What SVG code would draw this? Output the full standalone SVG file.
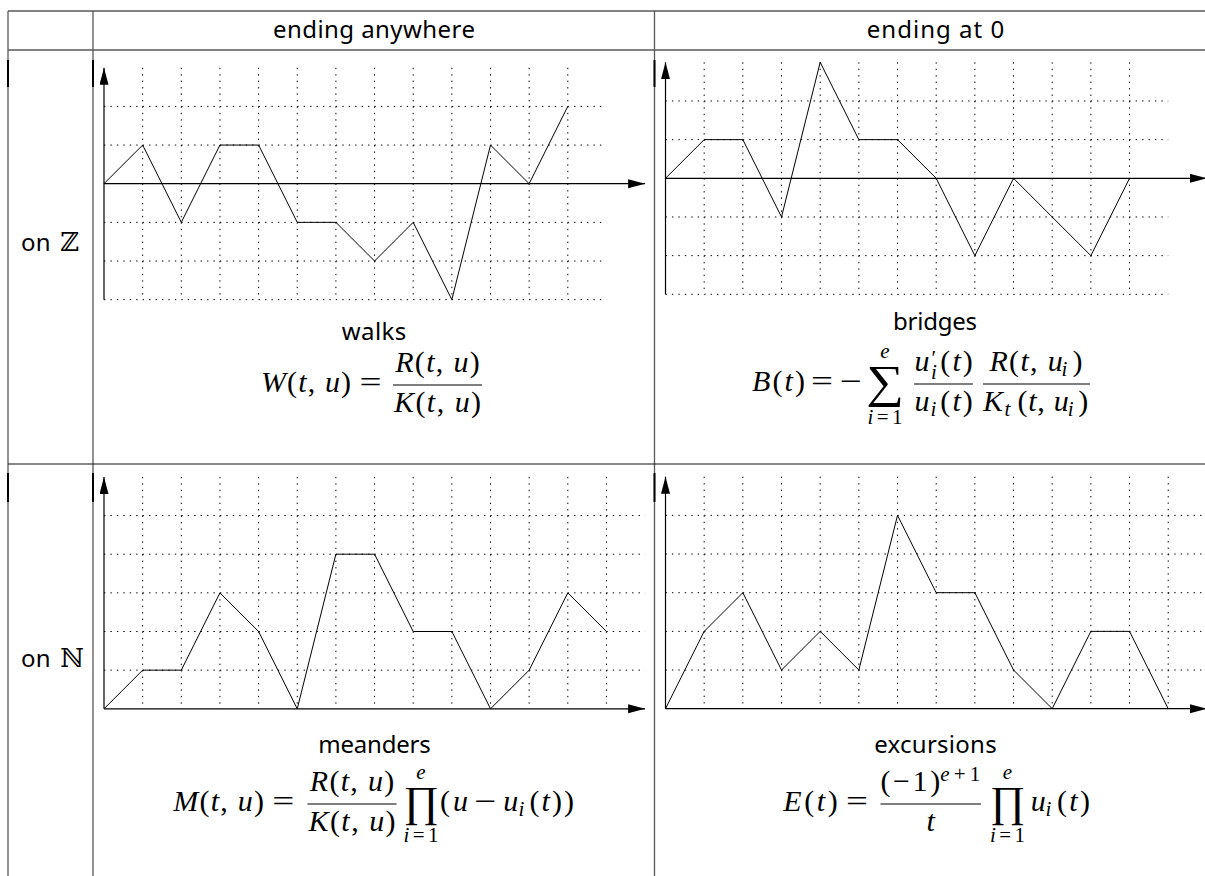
<svg xmlns="http://www.w3.org/2000/svg" width="1205" height="876" viewBox="0 0 1205 876">
<defs>
<style>
.tbl{stroke:#5a5a5a;stroke-width:1.3;fill:none}
.rule{stroke:#000;stroke-width:2;fill:none}
.grid{stroke:#000;stroke-width:1;stroke-dasharray:1.4 5.04;fill:none}
.axis{stroke:#000;stroke-width:1.2;fill:none;marker-end:url(#ah)}
.walk{stroke:#000;stroke-width:1;fill:none}
.lbl{font-family:"Noto Sans","DejaVu Sans",sans-serif;font-size:24px;fill:#000}
.m{font-family:"Liberation Serif","Times New Roman","DejaVu Serif",serif;font-size:30px;fill:#000}
.i{font-style:italic}
.s{font-size:21px}
.sum{font-size:46px}
.prod{font-size:43px}
.bar{stroke:#000;stroke-width:1.1}
.bb{font-family:"DejaVu Serif",serif;font-size:26px;fill:#000}
</style>
<marker id="ah" markerUnits="userSpaceOnUse" markerWidth="18" markerHeight="10" refX="17" refY="4.5" orient="auto"><path d="M0 0L17 4.5L0 9z" fill="#000"/></marker>
</defs>
<rect width="1205" height="876" fill="#fff"/>

<g id="table">
<path class="tbl" d="M8 11H1205M8 50H1205M8 11V876M93 11V876M654.5 11V876"/>
<path d="M8 464H1205" stroke="#111" stroke-width="1.1"/>
<path class="rule" d="M8 60V87M93 60V87M654.5 60V87M8 473V502M93 473V502M654.5 473V502"/>
</g>

<g id="headers">
<text class="lbl" x="273" y="38.3" textLength="202" lengthAdjust="spacing">ending anywhere</text>
<text class="lbl" x="866.75" y="38.3" textLength="137.5" lengthAdjust="spacing">ending at 0</text>
<text class="lbl" x="21" y="250.5" textLength="29.5" lengthAdjust="spacing">on</text>
<text class="bb" x="60.2" y="250.5">ℤ</text>
<text class="lbl" x="21" y="667" textLength="29.5" lengthAdjust="spacing">on</text>
<text class="bb" x="60.2" y="667">ℕ</text>
</g>

<g id="cell-walks">
<path class="grid" d="M142.65 67.75V299.65M181.3 67.75V299.65M219.95 67.75V299.65M258.6 67.75V299.65M297.25 67.75V299.65M335.9 67.75V299.65M374.55 67.75V299.65M413.2 67.75V299.65M451.85 67.75V299.65M490.5 67.75V299.65M529.15 67.75V299.65M567.8 67.75V299.65M104 106.4H606.45M104 145.05H606.45M104 222.35H606.45M104 261H606.45M104 299.65H606.45"/>
<path class="axis" d="M104 299.65V67.75"/>
<path class="axis" d="M104 183.7H645.1"/>
<path class="walk" d="M104 183.7L142.65 145.05L181.3 222.35L219.95 145.05L258.6 145.05L297.25 222.35L335.9 222.35L374.55 261L413.2 222.35L451.85 299.65L490.5 145.05L529.15 183.7L567.8 106.4"/>
<text class="lbl" x="341.8" y="339.5" textLength="64.5" lengthAdjust="spacing">walks</text>
<text class="m" x="261" y="392" textLength="90" lengthAdjust="spacing"><tspan class="i">W</tspan>(<tspan class="i">t</tspan>, <tspan class="i">u</tspan>)</text>
<text class="m" transform="translate(370.4 392) scale(1.3 1)" text-anchor="middle">=</text>
<line class="bar" x1="393" y1="385" x2="482" y2="385"/>
<text class="m" x="395.2" y="372.4" textLength="84.5" lengthAdjust="spacing"><tspan class="i">R</tspan>(<tspan class="i">t</tspan>, <tspan class="i">u</tspan>)</text>
<text class="m" x="393.9" y="411.9" textLength="87.2" lengthAdjust="spacing"><tspan class="i">K</tspan>(<tspan class="i">t</tspan>, <tspan class="i">u</tspan>)</text>
</g>

<g id="cell-bridges">
<path class="grid" d="M704.17 62.29V294.31M742.84 62.29V294.31M781.51 62.29V294.31M820.18 62.29V294.31M858.85 62.29V294.31M897.52 62.29V294.31M936.19 62.29V294.31M974.86 62.29V294.31M1013.53 62.29V294.31M1052.2 62.29V294.31M1090.87 62.29V294.31M1129.54 62.29V294.31M665.5 100.96H1168.21M665.5 139.63H1168.21M665.5 216.97H1168.21M665.5 255.64H1168.21M665.5 294.31H1168.21"/>
<path class="axis" d="M665.5 294.31V62.29"/>
<path class="axis" d="M665.5 178.3H1206.88"/>
<path class="walk" d="M665.5 178.3L704.17 139.63L742.84 139.63L781.51 216.97L820.18 62.29L858.85 139.63L897.52 139.63L936.19 178.3L974.86 255.64L1013.53 178.3L1052.2 216.97L1090.87 255.64L1129.54 178.3"/>
<text class="lbl" x="893" y="330" textLength="84" lengthAdjust="spacing">bridges</text>
<text class="m" x="752" y="391" textLength="53" lengthAdjust="spacing"><tspan class="i">B</tspan>(<tspan class="i">t</tspan>)</text>
<text class="m" transform="translate(822 391) scale(1.3 1)" text-anchor="middle">=</text>
<text class="m" transform="translate(851 391) scale(1.3 1)" text-anchor="middle">−</text>
<text class="m sum" transform="translate(885 397) scale(1.15 1)" text-anchor="middle">∑</text>
<text class="m i s" x="885" y="357.5" text-anchor="middle">e</text>
<text class="m s" x="867.5" y="424" textLength="35" lengthAdjust="spacing"><tspan class="i">i</tspan>=1</text>
<line class="bar" x1="914" y1="384" x2="973" y2="384"/>
<text class="m i" x="914.5" y="371.4">u</text>
<text class="m s" x="931.5" y="365">′</text>
<text class="m i s" x="931" y="379">i</text>
<text class="m" x="940.3" y="371.4" textLength="32.5" lengthAdjust="spacing">(<tspan class="i">t</tspan>)</text>
<text class="m i" x="914.5" y="410.9">u</text>
<text class="m i s" x="930.5" y="415.6">i</text>
<text class="m" x="940.3" y="410.9" textLength="32.5" lengthAdjust="spacing">(<tspan class="i">t</tspan>)</text>
<line class="bar" x1="983" y1="384" x2="1090" y2="384"/>
<text class="m" x="989.4" y="371.4" textLength="73.3" lengthAdjust="spacing"><tspan class="i">R</tspan>(<tspan class="i">t</tspan>, <tspan class="i">u</tspan></text>
<text class="m i s" x="1061.5" y="376">i</text>
<text class="m" x="1072.4" y="371.4">)</text>
<text class="m i" x="983" y="410.9">K</text>
<text class="m i s" x="1004.5" y="415.6">t</text>
<text class="m" x="1017.4" y="410.9" textLength="51.3" lengthAdjust="spacing">(<tspan class="i">t</tspan>, <tspan class="i">u</tspan></text>
<text class="m i s" x="1067.7" y="415.6">i</text>
<text class="m" x="1078.3" y="410.9">)</text>
</g>

<g id="cell-meanders">
<path class="grid" d="M142.65 476.9V708.8M181.3 476.9V708.8M219.95 476.9V708.8M258.6 476.9V708.8M297.25 476.9V708.8M335.9 476.9V708.8M374.55 476.9V708.8M413.2 476.9V708.8M451.85 476.9V708.8M490.5 476.9V708.8M529.15 476.9V708.8M567.8 476.9V708.8M606.45 476.9V708.8M104 670.15H645.1M104 631.5H645.1M104 592.85H645.1M104 554.2H645.1M104 515.55H645.1"/>
<path class="axis" d="M104 708.8V476.9"/>
<path class="axis" d="M104 708.8H645.1"/>
<path class="walk" d="M104 708.8L142.65 670.15L181.3 670.15L219.95 592.85L258.6 631.5L297.25 708.8L335.9 554.2L374.55 554.2L413.2 631.5L451.85 631.5L490.5 708.8L529.15 670.15L567.8 592.85L606.45 631.5"/>
<text class="lbl" x="318.3" y="753.3" textLength="112.4" lengthAdjust="spacing">meanders</text>
<text class="m" x="173.3" y="811" textLength="90.6" lengthAdjust="spacing"><tspan class="i">M</tspan>(<tspan class="i">t</tspan>, <tspan class="i">u</tspan>)</text>
<text class="m" transform="translate(283.3 811) scale(1.3 1)" text-anchor="middle">=</text>
<line class="bar" x1="307.5" y1="804" x2="396.5" y2="804"/>
<text class="m" x="309.75" y="791.4" textLength="84.5" lengthAdjust="spacing"><tspan class="i">R</tspan>(<tspan class="i">t</tspan>, <tspan class="i">u</tspan>)</text>
<text class="m" x="308.4" y="830.9" textLength="87.2" lengthAdjust="spacing"><tspan class="i">K</tspan>(<tspan class="i">t</tspan>, <tspan class="i">u</tspan>)</text>
<text class="m prod" x="421" y="815.5" text-anchor="middle">∏</text>
<text class="m i s" x="421" y="778.5" text-anchor="middle">e</text>
<text class="m s" x="403.5" y="842" textLength="35" lengthAdjust="spacing"><tspan class="i">i</tspan>=1</text>
<text class="m" x="440" y="811" textLength="27.9" lengthAdjust="spacing">(<tspan class="i">u</tspan></text>
<text class="m" transform="translate(485.6 811) scale(1.3 1)" text-anchor="middle">−</text>
<text class="m i" x="503.3" y="811">u</text>
<text class="m i s" x="518.5" y="815.6">i</text>
<text class="m" x="529.5" y="811" textLength="44.4" lengthAdjust="spacing">(<tspan class="i">t</tspan>))</text>
</g>

<g id="cell-excursions">
<path class="grid" d="M704.17 476.68V708.7M742.84 476.68V708.7M781.51 476.68V708.7M820.18 476.68V708.7M858.85 476.68V708.7M897.52 476.68V708.7M936.19 476.68V708.7M974.86 476.68V708.7M1013.53 476.68V708.7M1052.2 476.68V708.7M1090.87 476.68V708.7M1129.54 476.68V708.7M1168.21 476.68V708.7M665.5 670.03H1206.88M665.5 631.36H1206.88M665.5 592.69H1206.88M665.5 554.02H1206.88M665.5 515.35H1206.88"/>
<path class="axis" d="M665.5 708.7V476.68"/>
<path class="axis" d="M665.5 708.7H1206.88"/>
<path class="walk" d="M665.5 708.7L704.17 631.36L742.84 592.69L781.51 670.03L820.18 631.36L858.85 670.03L897.52 515.35L936.19 592.69L974.86 592.69L1013.53 670.03L1052.2 708.7L1090.87 631.36L1129.54 631.36L1168.21 708.7"/>
<text class="lbl" x="874.3" y="752.7" textLength="122.4" lengthAdjust="spacing">excursions</text>
<text class="m" x="783.3" y="811" textLength="54.4" lengthAdjust="spacing"><tspan class="i">E</tspan>(<tspan class="i">t</tspan>)</text>
<text class="m" transform="translate(857.1 811) scale(1.3 1)" text-anchor="middle">=</text>
<line class="bar" x1="880.5" y1="804" x2="981" y2="804"/>
<text class="m" x="880.5" y="791" textLength="59.7" lengthAdjust="spacing">(−1)</text>
<text class="m s" x="940.2" y="780.5" textLength="40" lengthAdjust="spacing"><tspan class="i">e</tspan>+1</text>
<text class="m i" x="930.75" y="830.9" text-anchor="middle">t</text>
<text class="m prod" x="1007.5" y="815.5" text-anchor="middle">∏</text>
<text class="m i s" x="1007.5" y="778.5" text-anchor="middle">e</text>
<text class="m s" x="990" y="842" textLength="35" lengthAdjust="spacing"><tspan class="i">i</tspan>=1</text>
<text class="m i" x="1030.7" y="811">u</text>
<text class="m i s" x="1045.5" y="815.6">i</text>
<text class="m" x="1056.9" y="811" textLength="33" lengthAdjust="spacing">(<tspan class="i">t</tspan>)</text>
</g>
</svg>
